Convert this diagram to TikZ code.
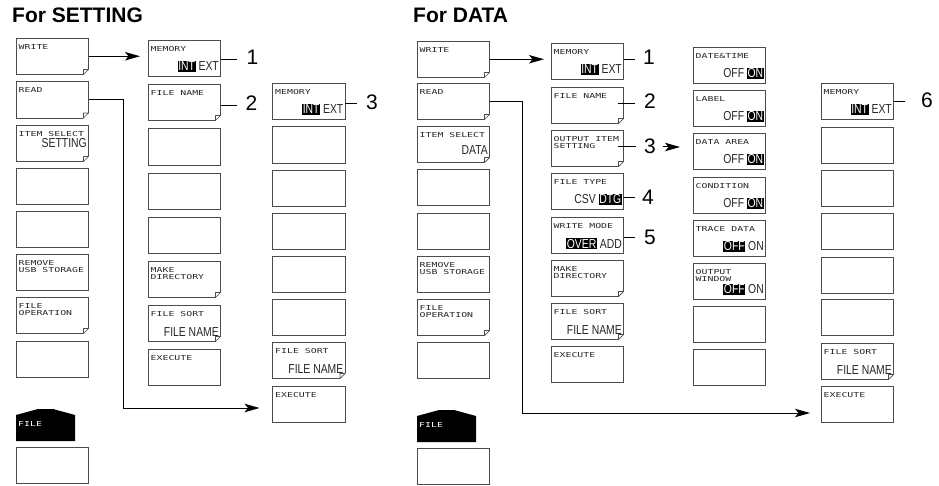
\documentclass[tikz,border=0pt]{standalone}
\usepackage{fontspec}
\setmainfont{Liberation Sans}
\newfontfamily\lcd[FakeStretch=1.45]{DejaVu Sans Mono}
\newfontfamily\lcdbig[FakeStretch=0.8]{Liberation Sans}
\usetikzlibrary{arrows.meta}
\newcommand\hl[1]{{\setlength{\fboxsep}{0.6pt}\colorbox{black}{\textcolor{white}{#1}}}}
\newcommand\kb[6][31]{%
 \node[keyb] (#2) at (#3,#4) {};
 \node[lbl] (#2-l) at ([xshift=2.5pt,yshift=-6.3pt]#2.north west) {#5};
 \node[val] (#2-v) at ([xshift=-1.5pt,yshift=-#1pt]#2.north east) {#6};}
\newcommand\fold[1]{%
 \fill[white] ([xshift=-5.6pt,yshift=-1pt]#1.south east) -- ([xshift=1pt,yshift=-1pt]#1.south east) -- ([xshift=1pt,yshift=5.6pt]#1.south east) -- cycle;
 \draw[foldline] ([xshift=-5pt]#1.south east) -- ([yshift=5pt]#1.south east) -- ([xshift=-5pt,yshift=5pt]#1.south east) -- cycle;}
\begin{document}
\begin{tikzpicture}[x=1pt,y=-1pt,
 keyb/.style={draw=black!70, line width=0.9pt, minimum width=72.5pt, minimum height=36.5pt, inner sep=0pt, outer sep=0pt, anchor=north west},
 lbl/.style={anchor=north west, inner sep=0pt, align=left, font=\lcd\fontsize{6.8}{7.4}\selectfont, text=black!85},
 val/.style={anchor=base east, inner sep=0pt, font=\lcdbig\fontsize{13}{13}\selectfont, text=black!85},
 foldline/.style={draw=black!70, line width=0.7pt, line join=round},
 conn/.style={draw=black, line width=1pt},
 arr/.style={conn, -{Stealth[length=15pt,width=8.5pt,inset=3.5pt]}},
 num/.style={inner sep=0pt, font=\fontsize{21}{21}\selectfont},
 ttl/.style={anchor=base west, inner sep=0pt, font=\fontsize{21}{21}\selectfont\bfseries},
 tab/.style={fill=black},
 tabtxt/.style={anchor=north west, inner sep=0pt, font=\lcd\fontsize{6.8}{7.4}\selectfont, text=white}]
\useasboundingbox (0,0) rectangle (939,486);
% titles
\node[ttl] (t1) at (12,23) {For SETTING};
\node[ttl] (t2) at (413,23) {For DATA};
% ===== SETTING, column A
\kb{sA1}{16}{38}{WRITE}{}
\kb{sA2}{16}{81.5}{READ}{}
\kb[23]{sA3}{16}{125}{ITEM SELECT}{SETTING}
\kb{sA4}{16}{168}{}{}
\kb{sA5}{16}{211}{}{}
\kb{sA6}{16}{254}{REMOVE\\USB STORAGE}{}
\kb{sA7}{16}{297}{FILE\\OPERATION}{}
\kb{sA8}{16}{341}{}{}
\fill[tab] (16,441) -- (16,415) -- (38,409) -- (53,409) -- (75,415) -- (75,441) -- cycle;
\node[tabtxt] (sfile) at (18,421) {FILE};
\kb{sA9}{16}{447}{}{}
% column B
\kb{sB1}{148}{40}{MEMORY}{\hl{INT} EXT}
\kb{sB2}{148}{84}{FILE NAME}{}
\kb{sB3}{148}{128.5}{}{}
\kb{sB4}{148}{173}{}{}
\kb{sB5}{148}{217}{}{}
\kb{sB6}{148}{261}{MAKE\\DIRECTORY}{}
\kb{sB7}{148}{305}{FILE SORT}{FILE NAME}
\kb{sB8}{148}{349}{EXECUTE}{}
% column C
\kb{sC1}{272.5}{83}{MEMORY}{\hl{INT} EXT}
\kb{sC2}{272.5}{126.5}{}{}
\kb{sC3}{272.5}{170}{}{}
\kb{sC4}{272.5}{213}{}{}
\kb{sC5}{272.5}{256}{}{}
\kb{sC6}{272.5}{299}{}{}
\kb{sC7}{272.5}{342}{FILE SORT}{FILE NAME}
\kb{sC8}{272.5}{386}{EXECUTE}{}
\foreach \n in {sA1,sA2,sA3,sA7,sB2,sB6,sB7,sC7} {\fold{\n}}
% numbers SETTING
\node[num] (s1) at (252.5,57) {1};
\node[num] (s2) at (251.5,103) {2};
\node[num] (s3) at (372,102) {3};
\coordinate (s1e) at (237,60);
\coordinate (s2e) at (237,106);
\coordinate (s3e) at (357,104);
\draw[conn] (s1e -| sB1.east) -- (s1e);
\draw[conn] (s2e -| sB2.east) -- (s2e);
\draw[conn] (s3e -| sC1.east) -- (s3e);
% arrows SETTING
\draw[arr, shorten >=8pt] (sA1.east) -- (sA1.east -| sB1.west);
\coordinate (sbend) at (123,408);
\draw[arr, shorten >=13pt] (sA2.east) -- (sA2.east -| sbend) -- (sbend) -- (sbend -| sC8.west);
% ===== DATA, column A
\kb{dA1}{417}{41}{WRITE}{}
\kb{dA2}{417}{83}{READ}{}
\kb[29]{dA3}{417}{126}{ITEM SELECT}{DATA}
\kb{dA4}{417}{169}{}{}
\kb{dA5}{417}{213}{}{}
\kb{dA6}{417}{256}{REMOVE\\USB STORAGE}{}
\kb{dA7}{417}{299}{FILE\\OPERATION}{}
\kb{dA8}{417}{342}{}{}
\fill[tab] (417,442) -- (417,416) -- (439,410) -- (454,410) -- (476,416) -- (476,442) -- cycle;
\node[tabtxt] (dfile) at (419,422) {FILE};
\kb{dA9}{417}{448}{}{}
% column B
\kb{dB1}{551}{43}{MEMORY}{\hl{INT} EXT}
\kb{dB2}{551}{87}{FILE NAME}{}
\kb{dB3}{551}{130}{OUTPUT ITEM\\SETTING}{}
\kb{dB4}{551}{173}{FILE TYPE}{CSV \hl{DTG}}
\kb{dB5}{551}{217}{WRITE MODE}{\hl{OVER} ADD}
\kb{dB6}{551}{260}{MAKE\\DIRECTORY}{}
\kb{dB7}{551}{303}{FILE SORT}{FILE NAME}
\kb{dB8}{551}{346}{EXECUTE}{}
% column D
\kb{dD1}{693}{47}{DATE\&TIME}{OFF \hl{ON}}
\kb{dD2}{693}{90}{LABEL}{OFF \hl{ON}}
\kb{dD3}{693}{133}{DATA AREA}{OFF \hl{ON}}
\kb{dD4}{693}{177}{CONDITION}{OFF \hl{ON}}
\kb{dD5}{693}{220}{TRACE DATA}{\hl{OFF} ON}
\kb{dD6}{693}{263}{OUTPUT\\WINDOW}{\hl{OFF} ON}
\kb{dD7}{693}{306}{}{}
\kb{dD8}{693}{349}{}{}
% column E
\kb{dE1}{821}{83}{MEMORY}{\hl{INT} EXT}
\kb{dE2}{821}{127}{}{}
\kb{dE3}{821}{170}{}{}
\kb{dE4}{821}{213}{}{}
\kb{dE5}{821}{257}{}{}
\kb{dE6}{821}{299}{}{}
\kb{dE7}{821}{343}{FILE SORT}{FILE NAME}
\kb{dE8}{821}{386}{EXECUTE}{}
\foreach \n in {dA1,dA2,dA3,dA7,dB2,dB3,dB6,dB7,dE7} {\fold{\n}}
% numbers DATA
\node[num] (d1) at (649,57) {1};
\node[num] (d2) at (650,101) {2};
\node[num] (d3) at (650,146) {3};
\node[num] (d4) at (648,197) {4};
\node[num] (d5) at (650,237) {5};
\node[num] (d6) at (927,100) {6};
\coordinate (d1e) at (635,60);
\coordinate (d2e) at (635,104);
\coordinate (d3e) at (636,147);
\coordinate (d4e) at (635,198);
\coordinate (d5e) at (635,238);
\coordinate (d6e) at (905,102);
\draw[conn] (d1e -| dB1.east) -- (d1e);
\draw[conn] ([xshift=-6pt]d2e -| dB2.east) -- (d2e);
\draw[conn] ([xshift=-6pt]d3e -| dB3.east) -- (d3e);
\draw[conn] (d4e -| dB4.east) -- (d4e);
\draw[conn] (d5e -| dB5.east) -- (d5e);
\draw[conn] (d6e -| dE1.east) -- (d6e);
\draw[arr, shorten <=7pt, shorten >=13pt] (d3.east |- d3e) -- (d3e -| dD3.west);
% arrows DATA
\draw[arr, shorten >=7pt] (dA1.east) -- (dA1.east -| dB1.west);
\coordinate (dbend) at (522,413);
\draw[arr, shorten >=11pt] (dA2.east) -- (dA2.east -| dbend) -- (dbend) -- (dbend -| dE8.west);
\end{tikzpicture}
\end{document}
